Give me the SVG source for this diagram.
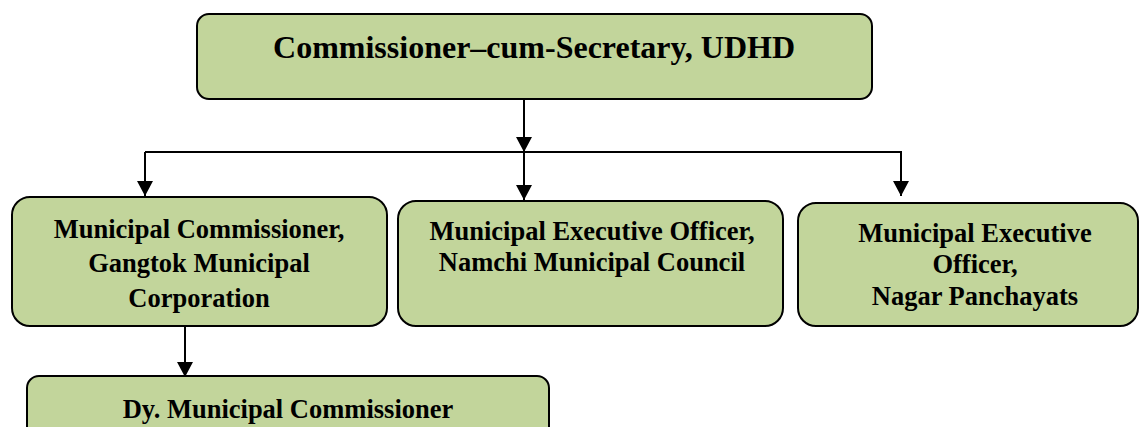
<svg xmlns="http://www.w3.org/2000/svg" width="1139" height="427" viewBox="0 0 1139 427">
<defs>
<style>
.box{fill:#c2d59b;stroke:#000;stroke-width:2}
.t{font-family:"Liberation Serif","Times New Roman",serif;font-weight:bold;font-size:26.5px;fill:#000;text-anchor:middle}
.tt{font-size:32px}
.c{fill:none;stroke:#000;stroke-width:2}
</style>
<marker id="arr" markerUnits="userSpaceOnUse" markerWidth="15" markerHeight="16" refX="15" refY="8" orient="auto" viewBox="0 0 15 16">
<path d="M0,0 L15,8 L0,16 z" fill="#000"/>
</marker>
</defs>
<rect width="1139" height="427" fill="#fff"/>
<g id="connectors">
<line class="c" x1="524" y1="99" x2="524" y2="152" marker-end="url(#arr)"/>
<line class="c" x1="145" y1="152" x2="902" y2="152"/>
<line class="c" x1="145" y1="152" x2="145" y2="196" marker-end="url(#arr)"/>
<line class="c" x1="524" y1="152" x2="524" y2="200" marker-end="url(#arr)"/>
<line class="c" x1="901" y1="152" x2="901" y2="196" marker-end="url(#arr)"/>
<line class="c" x1="185" y1="326" x2="185" y2="377" marker-end="url(#arr)"/>
</g>
<g id="n-top">
<rect class="box" x="197" y="14" width="675" height="85" rx="12"/>
<text class="t tt" x="534" y="58">Commissioner–cum-Secretary, UDHD</text>
</g>
<g id="n-gmc">
<rect class="box" x="12" y="197" width="375" height="129" rx="18"/>
<text class="t" x="199" y="238">Municipal Commissioner,</text>
<text class="t" x="199" y="272">Gangtok Municipal</text>
<text class="t" x="199" y="307">Corporation</text>
</g>
<g id="n-nmc">
<rect class="box" x="398" y="201" width="385" height="125" rx="18"/>
<text class="t" x="592" y="240">Municipal Executive Officer,</text>
<text class="t" x="592" y="271">Namchi Municipal Council</text>
</g>
<g id="n-np">
<rect class="box" x="798" y="203" width="340" height="123" rx="18"/>
<text class="t" x="975" y="242">Municipal Executive</text>
<text class="t" x="975" y="273">Officer,</text>
<text class="t" x="975" y="305">Nagar Panchayats</text>
</g>
<g id="n-dmc">
<rect class="box" x="27" y="376" width="522" height="70" rx="12"/>
<text class="t" x="288" y="418">Dy. Municipal Commissioner</text>
</g>
</svg>
